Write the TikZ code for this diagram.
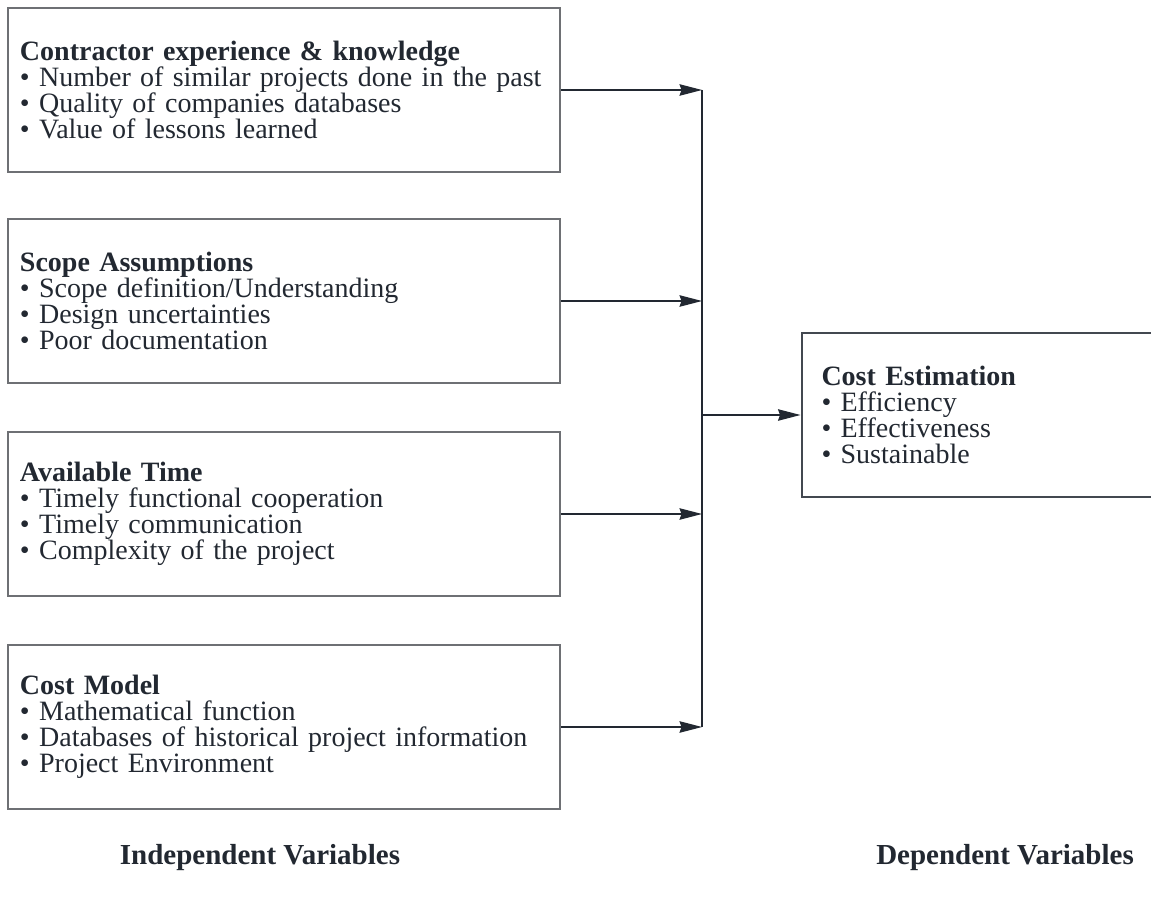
\documentclass[tikz,border=0pt]{standalone}
\usepackage{fontspec}
\setmainfont{Liberation Serif}
\usepackage{xcolor}
\usetikzlibrary{arrows.meta, positioning, calc}
\definecolor{modelInk}{RGB}{34,40,49}
\definecolor{modelEdge}{RGB}{110,112,116}

\begin{document}
\begin{tikzpicture}[x=0.4pt, y=-0.4pt,
      factor/.style={rectangle, draw=modelEdge, line width=0.8pt, minimum width=220.8pt, minimum height=65.6pt,
      text width=211.2pt, inner xsep=4.8pt, align=left, text=modelInk, font=\fontsize{11.2}{10.4}\selectfont},
      outcome/.style={factor, draw=modelInk!85, minimum width=140.4pt, text width=124.4pt, inner xsep=8pt},
      caption/.style={font=\fontsize{11.6}{12}\selectfont\bfseries, text=modelInk},
      arrow/.style={-{Stealth[length=9pt, width=4.6pt, inset=0.8pt]}, line width=0.5pt, draw=modelInk},
      wire/.style={line width=0.5pt, draw=modelInk}
    ]
    \useasboundingbox (0,0) rectangle (1151,898);

    \node[factor] (contractor) at (284,90) {\textbf{Contractor experience \& knowledge}\\
      • Number of similar projects done in the past\\
      • Quality of companies databases\\
      • Value of lessons learned};
    \node[factor] (scope) at (284,301) {\textbf{Scope Assumptions}\\
      • Scope definition/Understanding\\
      • Design uncertainties\\
      • Poor documentation};
    \node[factor] (avtime) at (284,514) {\textbf{Available Time}\\
      • Timely functional cooperation\\
      • Timely communication\\
      • Complexity of the project};
    \node[factor] (costmodel) at (284,727) {\textbf{Cost Model}\\
      • Mathematical function\\
      • Databases of historical project information\\
      • Project Environment};
    \node[outcome] (estimation) at (977,415) {\textbf{Cost Estimation}\\
      • Efficiency\\
      • Effectiveness\\
      • Sustainable};

    \coordinate (bus) at (702,415);

    \foreach \src in {contractor,scope,avtime,costmodel} {
      \draw[arrow] (\src.east) -- (\src.east -| bus);
    }
    \draw[wire] (contractor.east -| bus) -- (costmodel.east -| bus);
    \draw[arrow] (bus) -- (estimation.west);

    \node[caption] (indep) at (260,858) {Independent Variables};
    \node[caption] (dep) at (1005,858) {Dependent Variables};
  \end{tikzpicture}
\end{document}
